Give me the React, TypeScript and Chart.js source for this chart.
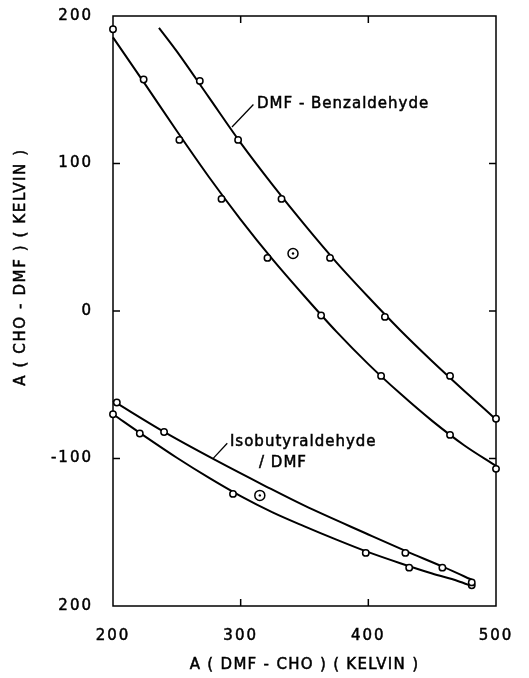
import React, { useEffect, useRef } from 'react';
import { Chart, registerables } from 'chart.js';

Chart.register(...registerables);

// ---- axis ticks / texts ----
const xTicks = [200, 300, 400, 500];
const yTicks = [200, 100, 0, -100, -200];
const yTickLabels = ['200', '100', '0', '-100', '200'];
const xTitle = 'A ( DMF - CHO ) ( KELVIN )';
const yTitle = 'A ( CHO - DMF ) ( KELVIN )';
const benzLabel = 'DMF - Benzaldehyde';
const isoLabel1 = 'Isobutyraldehyde';
const isoLabel2 = '/ DMF';

// ---- measured points ----
const benzOuterX = [268, 298, 332, 370, 413, 464, 500];
const benzOuterY = [156, 116, 76, 36, -4, -44, -73];
const benzInnerX = [200, 224, 252, 285, 321, 363, 410, 464, 500];
const benzInnerY = [191, 157, 116, 76, 36, -3, -44, -84, -107];
const benzSpecialX = [341];
const benzSpecialY = [39];

const isoUpperX = [203, 240, 429, 458, 481];
const isoUpperY = [-62, -82, -164, -174, -184];
const isoLowerX = [200, 221, 294, 398, 432, 481];
const isoLowerY = [-70, -83, -124, -164, -174, -186];
const isoSpecialX = [315];
const isoSpecialY = [-125];

// ---- fitted curves ----
const benzOuterCurveX = [236, 250, 275, 300, 325, 350, 375, 400, 425, 450, 475, 500];
const benzOuterCurveY = [192, 176, 145, 114, 85.5, 58.5, 33, 9.5, -13, -34, -54, -73.5];
const benzInnerCurveX = [200, 225, 250, 275, 300, 325, 350, 375, 400, 425, 450, 475, 500];
const benzInnerCurveY = [185.5, 154, 122, 91, 62, 35, 10, -14, -36, -56, -74.5, -91, -105];
const isoUpperCurveX = [200, 240, 280, 320, 350, 400, 430, 460, 483];
const isoUpperCurveY = [-61, -82, -101, -119, -132, -151.5, -163, -174, -183];
const isoLowerCurveX = [200, 225, 250, 275, 300, 325, 350, 375, 400, 425, 450, 470, 483];
const isoLowerCurveY = [-70, -85, -99.5, -113, -125.5, -136.5, -146, -155, -163.5, -171, -178, -183, -187];

const zip = (xs: number[], ys: number[]) => xs.map((x, i) => ({ x, y: ys[i] }));

const FONT = '"DejaVu Sans", sans-serif';

const framePlugin = {
  id: 'frame',
  beforeDraw(chart: any) {
    chart.ctx.letterSpacing = '2px';
  },
  beforeDatasetsDraw(chart: any) {
    const { ctx, chartArea: a, scales } = chart;
    const xs = scales.x;
    const ys = scales.y;
    ctx.save();
    ctx.strokeStyle = '#000';
    ctx.lineWidth = 1.5;
    ctx.strokeRect(a.left, a.top, a.right - a.left, a.bottom - a.top);
    const seg = (x1: number, y1: number, x2: number, y2: number) => {
      ctx.beginPath();
      ctx.moveTo(x1, y1);
      ctx.lineTo(x2, y2);
      ctx.stroke();
    };
    xTicks.slice(1, -1).forEach((v) => {
      const px = xs.getPixelForValue(v);
      seg(px, a.top, px, a.top + 7);
      seg(px, a.bottom, px, a.bottom - 7);
    });
    yTicks.slice(1, -1).forEach((v) => {
      const py = ys.getPixelForValue(v);
      seg(a.left, py, a.left + 7, py);
      seg(a.right, py, a.right - 7, py);
    });
    ctx.restore();
  },
  afterDraw(chart: any) {
    const { ctx, chartArea: a, scales } = chart;
    const xs = scales.x;
    const ys = scales.y;
    const P = (x: number, y: number) => [xs.getPixelForValue(x), ys.getPixelForValue(y)];
    const text = (s: string, x: number, y: number) => {
      ctx.lineWidth = 0.5;
      ctx.strokeText(s, x, y);
      ctx.fillText(s, x, y);
    };
    ctx.save();
    ctx.fillStyle = '#000';
    ctx.strokeStyle = '#000';
    ctx.textBaseline = 'alphabetic';
    ctx.textAlign = 'left';
    ctx.font = `15px ${FONT}`;
    ctx.letterSpacing = '1px';
    // benzaldehyde label
    let p = P(312.8, 137.6);
    text(benzLabel, p[0], p[1]);
    ctx.lineWidth = 1.3;
    let l1 = P(293.2, 124.7);
    let l2 = P(310, 140);
    ctx.beginPath();
    ctx.moveTo(l1[0], l1[1]);
    ctx.lineTo(l2[0], l2[1]);
    ctx.stroke();
    // iso labels
    p = P(291.6, -91.5);
    text(isoLabel1, p[0], p[1]);
    p = P(314.4, -105.6);
    text(isoLabel2, p[0], p[1]);
    ctx.lineWidth = 1.3;
    l1 = P(278.5, -99.9);
    l2 = P(289.5, -89.7);
    ctx.beginPath();
    ctx.moveTo(l1[0], l1[1]);
    ctx.lineTo(l2[0], l2[1]);
    ctx.stroke();
    // axis titles
    ctx.textAlign = 'center';
    ctx.textBaseline = 'middle';
    ctx.letterSpacing = '1.3px';
    text(xTitle, (a.left + a.right) / 2, 665);
    ctx.translate(21, 267);
    ctx.rotate(-Math.PI / 2);
    ctx.letterSpacing = '1.6px';
    text(yTitle, 0, 0);
    ctx.restore();
  },
};

export default function App() {
  const ref = useRef<HTMLCanvasElement | null>(null);
  useEffect(() => {
    if (!ref.current) return;
    const pts = (xs: number[], ys: number[], r: number) => ({
      data: zip(xs, ys),
      showLine: false,
      pointRadius: r,
      pointBorderWidth: 1.5,
      pointBorderColor: '#000',
      pointBackgroundColor: '#fff',
      pointStyle: 'circle',
      clip: false as any,
      order: 0,
    });
    const dot = (xs: number[], ys: number[]) => ({
      data: zip(xs, ys),
      showLine: false,
      pointRadius: 1.2,
      pointBorderWidth: 0,
      pointBackgroundColor: '#000',
      pointBorderColor: '#000',
      clip: false as any,
      order: -1,
    });
    const curve = (xs: number[], ys: number[]) => ({
      data: zip(xs, ys),
      showLine: true,
      pointRadius: 0,
      borderColor: '#000',
      borderWidth: 2,
      cubicInterpolationMode: 'monotone' as const,
      fill: false,
      clip: false as any,
      order: 1,
    });
    const tickFont = { family: FONT, size: 15 };
    const chart = new Chart(ref.current, {
      type: 'scatter',
      data: {
        datasets: [
          dot(benzSpecialX, benzSpecialY),
          dot(isoSpecialX, isoSpecialY),
          pts(benzOuterX, benzOuterY, 3.2),
          pts(benzInnerX, benzInnerY, 3.2),
          pts(isoUpperX, isoUpperY, 3.2),
          pts(isoLowerX, isoLowerY, 3.2),
          pts(benzSpecialX, benzSpecialY, 5),
          pts(isoSpecialX, isoSpecialY, 5),
          curve(benzOuterCurveX, benzOuterCurveY),
          curve(benzInnerCurveX, benzInnerCurveY),
          curve(isoUpperCurveX, isoUpperCurveY),
          curve(isoLowerCurveX, isoLowerCurveY),
        ] as any,
      },
      options: {
        responsive: false,
        animation: false,
        events: [],
        layout: { padding: { top: 16, right: 33, left: 0, bottom: 0 } },
        plugins: { legend: { display: false }, tooltip: { enabled: false } },
        scales: {
          x: {
            type: 'linear',
            min: 200,
            max: 500,
            afterBuildTicks: (s: any) => {
              s.ticks = xTicks.map((v) => ({ value: v }));
            },
            afterFit: (s: any) => {
              s.height = 72;
              s.paddingLeft = 0;
              s.paddingRight = 0;
            },
            grid: { display: false, drawTicks: false },
            border: { display: false },
            ticks: {
              color: '#000',
              padding: 21,
              maxRotation: 0,
              font: tickFont,
              textStrokeColor: '#000',
              textStrokeWidth: 0.5,
            } as any,
          },
          y: {
            type: 'linear',
            min: -200,
            max: 200,
            afterBuildTicks: (s: any) => {
              s.ticks = yTicks.map((v) => ({ value: v }));
            },
            afterFit: (s: any) => {
              s.width = 113;
              s.paddingTop = 0;
              s.paddingBottom = 0;
            },
            grid: { display: false, drawTicks: false },
            border: { display: false },
            ticks: {
              color: '#000',
              padding: 20,
              font: tickFont,
              textStrokeColor: '#000',
              textStrokeWidth: 0.5,
              callback: (v: any) => yTickLabels[yTicks.indexOf(Number(v))],
            } as any,
          },
        },
      },
      plugins: [framePlugin],
    });
    return () => chart.destroy();
  }, []);
  return (
    <div style={{ position: 'absolute', left: 0, top: 0, width: 529, height: 678, background: '#fff' }}>
      <canvas ref={ref} width={529} height={678} style={{ display: 'block' }} />
    </div>
  );
}
